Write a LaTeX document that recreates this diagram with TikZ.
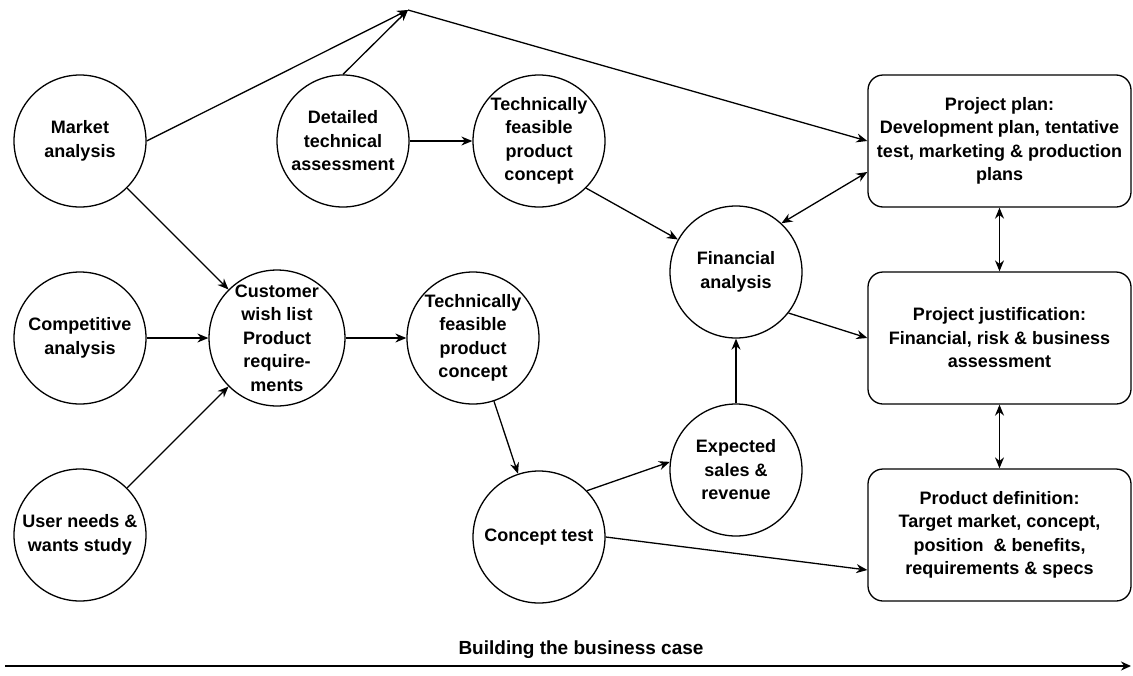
\documentclass[tikz,border=0pt]{standalone}
\usepackage{fontspec}
\setmainfont{Liberation Sans}
\usetikzlibrary{arrows.meta,calc}
\begin{document}
\begin{tikzpicture}[x=1pt,y=-1pt,
  every node/.style={font=\fontsize{18}{23.5}\selectfont\bfseries},
  bubble/.style={circle,draw,line width=1.3pt,minimum size=132pt,inner sep=0pt,align=center},
  panel/.style={draw,line width=1.3pt,rounded corners=15pt,minimum width=263pt,minimum height=132pt,inner sep=0pt,align=center},
  link/.style={line width=1.3pt,-{Stealth[length=11pt,width=9pt]}},
  both/.style={line width=1.3pt,{Stealth[length=11pt,width=9pt]}-{Stealth[length=11pt,width=9pt]}}]
\useasboundingbox (0,0) rectangle (1133,675);

% left column of studies
\node[bubble] (ma) at (80,141) {Market\\analysis};
\node[bubble] (ca) at (80,338) {Competitive\\analysis};
\node[bubble] (un) at (80,535) {User needs \&\\wants study};

% middle columns
\node[bubble] (dta) at (343,141) {Detailed\\technical\\assessment};
\node[bubble] (tf1) at (539,141) {Technically\\feasible\\product\\concept};
\node[bubble] (cw) at (277,338) {Customer\\wish list\\Product\\require-\\ments};
\node[bubble] (tf2) at (473,338) {Technically\\feasible\\product\\concept};
\node[bubble] (ct) at (539,537) {Concept test};
\node[bubble] (fa) at (736,272) {Financial\\analysis};
\node[bubble] (es) at (736,470) {Expected\\sales \&\\revenue};

% outcome boxes
\node[panel] (pp) at (999.5,141) {Project plan:\\ Development plan, tentative\\test, marketing \& production\\plans};
\node[panel] (pj) at (999.5,338) {Project justification:\\Financial, risk \& business\\assessment};
\node[panel] (pd) at (999.5,535) {Product definition:\\ Target market, concept,\\position\ \ \& benefits,\\requirements \& specs};

% junction at the top
\coordinate (apex) at (408,10);
\draw[link] (ma.east) -- (apex);
\draw[link] (dta.north) -- (apex);
\draw[link] (apex) -- (pp.west);

% flows
\draw[link] (ma) -- (cw);
\draw[link] (ca) -- (cw);
\draw[link] (un) -- (cw);
\draw[link] (cw) -- (tf2);
\draw[link] (dta) -- (tf1);
\draw[link] (tf1.-45) -- (fa);
\draw[link] (tf2) -- (ct);
\draw[link] (ct.44) -- (es.173);
\draw[link] (ct.east) -- ([yshift=-35pt]pd.west);
\draw[link] (es.north) -- (fa.south);
\draw[link] (fa.-38) -- (pj.west);
\draw[both] (fa.47) -- ([yshift=-31pt]pp.west);
\draw[both] (pp.south) -- (pj.north);
\draw[both] (pj.south) -- (pd.north);

% timeline
\coordinate (tl0) at (5,666);
\coordinate (tl1) at (1131,666);
\draw[line width=1.8pt,-{Stealth[length=10pt,width=9pt]}] (tl0) -- (tl1);
\node[font=\fontsize{19}{23}\selectfont\bfseries] (bc) at (581,650) {Building the business case};
\end{tikzpicture}
\end{document}
